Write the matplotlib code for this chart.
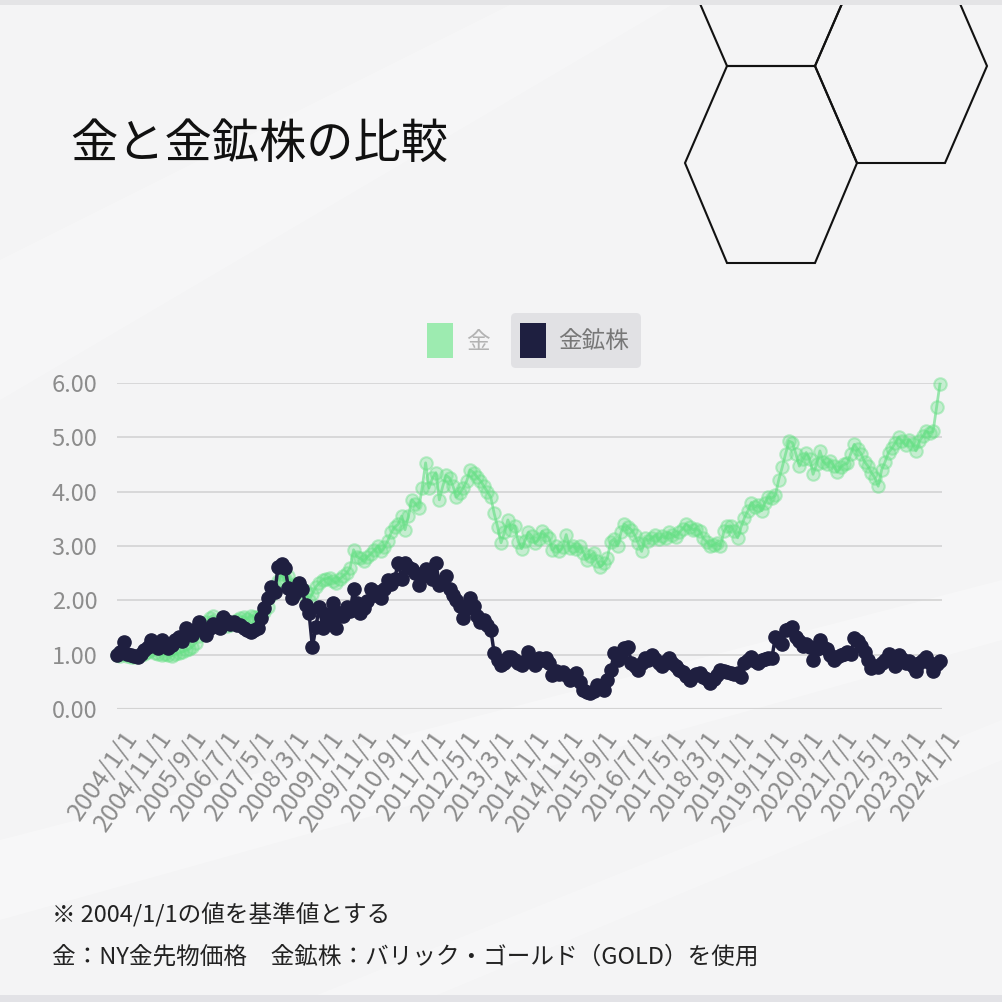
import matplotlib.pyplot as plt
import matplotlib.transforms as mtransforms
from matplotlib.patches import Polygon, FancyBboxPatch, Rectangle

plt.rcParams['font.family'] = ['Noto Sans CJK JP', 'DejaVu Sans']

# 2004/1 を 1.00 とした月次の相対値
gold = [
    1.00, 0.98, 1.02, 0.97, 0.95, 0.96, 0.98, 1.00, 1.01, 1.05, 1.08, 1.03,  # 2004
    1.02, 1.00, 1.01, 0.99, 0.98, 1.02, 1.03, 1.05, 1.08, 1.10, 1.15, 1.22,  # 2005
    1.35, 1.42, 1.60, 1.68, 1.72, 1.58, 1.55, 1.60, 1.52, 1.55, 1.60, 1.63,  # 2006
    1.68, 1.70, 1.66, 1.72, 1.70, 1.69, 1.71, 1.78, 1.88, 2.10, 2.20, 2.35,  # 2007
    2.48, 2.40, 2.45, 2.25, 2.30, 2.14, 2.20, 2.17, 2.00, 2.12, 2.25, 2.32,  # 2008
    2.38, 2.40, 2.42, 2.35, 2.32, 2.40, 2.45, 2.50, 2.60, 2.93, 2.80, 2.77,  # 2009
    2.72, 2.80, 2.85, 2.92, 3.00, 2.90, 2.98, 3.10, 3.25, 3.35, 3.40, 3.55,  # 2010
    3.30, 3.55, 3.85, 3.78, 3.70, 4.07, 4.53, 4.07, 4.25, 4.35, 3.85, 4.10,  # 2011
    4.30, 4.25, 4.10, 3.90, 3.98, 4.07, 4.20, 4.40, 4.35, 4.27, 4.20, 4.10,  # 2012
    4.00, 3.90, 3.60, 3.35, 3.06, 3.25, 3.48, 3.30, 3.37, 3.08, 2.95, 3.10,  # 2013
    3.25, 3.18, 3.05, 3.12, 3.27, 3.20, 3.15, 2.93, 3.00, 2.90, 2.98, 3.21,  # 2014
    2.96, 3.00, 2.95, 3.00, 2.88, 2.75, 2.82, 2.87, 2.72, 2.62, 2.68, 2.78,  # 2015
    3.08, 3.13, 3.00, 3.25, 3.40, 3.35, 3.30, 3.20, 3.05, 2.90, 3.14, 3.10,  # 2016
    3.15, 3.20, 3.12, 3.18, 3.14, 3.25, 3.20, 3.17, 3.25, 3.32, 3.40, 3.35,  # 2017
    3.30, 3.32, 3.27, 3.14, 3.08, 3.00, 3.02, 3.05, 3.00, 3.27, 3.36, 3.37,  # 2018
    3.27, 3.15, 3.35, 3.52, 3.65, 3.80, 3.72, 3.75, 3.65, 3.80, 3.91, 3.88,  # 2019
    3.93, 4.22, 4.45, 4.70, 4.93, 4.90, 4.69, 4.47, 4.60, 4.72, 4.60, 4.32,  # 2020
    4.50, 4.75, 4.55, 4.50, 4.57, 4.48, 4.36, 4.45, 4.50, 4.52, 4.70, 4.87,  # 2021
    4.78, 4.70, 4.55, 4.47, 4.35, 4.26, 4.10, 4.40, 4.55, 4.72, 4.80, 4.90,  # 2022
    5.00, 4.93, 4.85, 4.96, 4.88, 4.75, 4.93, 5.02, 5.11, 5.08, 5.11, 5.55,  # 2023
    5.98,                                                                    # 2024
]

miners = [
    1.00, 1.05, 1.24, 1.01, 0.99, 0.97, 0.95, 1.02, 1.09, 1.15, 1.27, 1.18,  # 2004
    1.12, 1.27, 1.20, 1.12, 1.18, 1.27, 1.33, 1.25, 1.50, 1.40, 1.36, 1.48,  # 2005
    1.60, 1.45, 1.36, 1.50, 1.57, 1.52, 1.50, 1.70, 1.62, 1.57, 1.60, 1.55,  # 2006
    1.55, 1.50, 1.45, 1.42, 1.46, 1.49, 1.67, 1.85, 2.05, 2.25, 2.16, 2.62,  # 2007
    2.66, 2.60, 2.23, 2.05, 2.14, 2.32, 2.20, 1.92, 1.77, 1.14, 1.51, 1.88,  # 2008
    1.50, 1.75, 1.62, 1.95, 1.50, 1.77, 1.72, 1.88, 1.80, 2.20, 1.95, 1.77,  # 2009
    1.85, 1.98, 2.20, 2.10, 2.15, 2.05, 2.20, 2.38, 2.30, 2.40, 2.69, 2.40,  # 2010
    2.69, 2.62, 2.58, 2.50, 2.29, 2.45, 2.58, 2.50, 2.40, 2.69, 2.29, 2.35,  # 2011
    2.45, 2.20, 2.10, 2.00, 1.90, 1.68, 1.85, 2.05, 1.90, 1.72, 1.60, 1.64,  # 2012
    1.55, 1.46, 1.03, 0.90, 0.81, 0.85, 0.95, 0.96, 0.90, 0.85, 0.81, 0.88,  # 2013
    1.05, 0.90, 0.81, 0.94, 0.90, 0.94, 0.85, 0.63, 0.70, 0.65, 0.68, 0.62,  # 2014
    0.54, 0.60, 0.66, 0.50, 0.35, 0.32, 0.29, 0.33, 0.44, 0.38, 0.35, 0.54,  # 2015
    0.72, 1.03, 0.90, 0.98, 1.12, 1.15, 0.85, 0.80, 0.72, 0.85, 0.94, 0.90,  # 2016
    0.99, 0.92, 0.85, 0.79, 0.88, 0.94, 0.85, 0.80, 0.72, 0.68, 0.60, 0.54,  # 2017
    0.60, 0.65, 0.66, 0.58, 0.55, 0.48, 0.55, 0.63, 0.72, 0.70, 0.68, 0.66,  # 2018
    0.64, 0.66, 0.59, 0.85, 0.90, 0.96, 0.88, 0.85, 0.90, 0.92, 0.93, 0.94,  # 2019
    1.33, 1.25, 1.20, 1.46, 1.48, 1.51, 1.33, 1.25, 1.16, 1.20, 1.14, 0.90,  # 2020
    1.10, 1.27, 1.15, 1.10, 1.00, 0.90, 0.95, 1.00, 1.01, 1.05, 1.01, 1.31,  # 2021
    1.25, 1.16, 1.05, 0.90, 0.76, 0.80, 0.78, 0.85, 0.90, 1.01, 0.88, 0.79,  # 2022
    0.99, 0.92, 0.85, 0.88, 0.80, 0.70, 0.85, 0.90, 0.96, 0.85, 0.70, 0.82,  # 2023
    0.88,                                                                    # 2024
]

labels = [f"{2004 + k // 12}/{k % 12 + 1}/1" for k in range(len(gold))]
tick_step = 10
y_ticks = [0, 1, 2, 3, 4, 5, 6]

title = "金と金鉱株の比較"
legend_names = ["金", "金鉱株"]
notes = ["※ 2004/1/1の値を基準値とする",
         "金：NY金先物価格　金鉱株：バリック・ゴールド（GOLD）を使用"]

W = H = 1002
fig = plt.figure(figsize=(W / 100, H / 100), dpi=100)
fig.patch.set_facecolor('#f4f4f5')

# 背景・装飾用（ピクセル座標）
bg = fig.add_axes([0, 0, 1, 1], zorder=0)
bg.set_xlim(0, W)
bg.set_ylim(H, 0)
bg.axis('off')

# うっすらとした背景の流れ
bg.add_patch(Polygon([(0, 840), (1002, 580), (1002, 640), (0, 920)],
                     closed=True, fc='white', ec='none', alpha=0.3))
bg.add_patch(Polygon([(300, 1002), (1002, 720), (1002, 760), (420, 1002)],
                     closed=True, fc='white', ec='none', alpha=0.25))
bg.add_patch(Polygon([(0, 260), (520, 0), (680, 0), (0, 400)],
                     closed=True, fc='white', ec='none', alpha=0.25))

# 六角形
hexes = [
    [(685, 163), (727, 66), (815, 66), (857, 163), (815, 263), (727, 263)],
    [(815, 66), (857, 163), (945, 163), (987, 66), (945, -31), (857, -31)],
    [(727, 66), (815, 66), (857, -31), (815, -128), (727, -128), (685, -31)],
]
for hx in hexes:
    bg.add_patch(Polygon(hx, closed=True, fc='none', ec='#111111', lw=1.5))

# 枠
bg.add_patch(Rectangle((0, 0), W, 5, fc='#e4e4e6', ec='none', zorder=5))
bg.add_patch(Rectangle((0, 995), W, 7, fc='#e2e2e6', ec='none', zorder=5))

# タイトル
bg.text(70, 145, title, fontsize=34, color='#111111', va='center', ha='left')

# 凡例
bg.add_patch(Rectangle((427, 323), 26, 35, fc='#9debb0', ec='none'))
bg.text(466, 342, legend_names[0], fontsize=17, color='#b3b3b3', va='center')
bg.add_patch(FancyBboxPatch((511, 313), 130, 55,
                            boxstyle='round,pad=0,rounding_size=5',
                            fc='#e1e1e4', ec='none'))
bg.add_patch(Rectangle((520, 323), 26, 35, fc='#1e1f40', ec='none'))
bg.text(558, 342, legend_names[1], fontsize=17, color='#777777', va='center')

# 注記
bg.text(52, 915, notes[0], fontsize=17, color='#222222', va='center')
bg.text(52, 957, notes[1], fontsize=17, color='#222222', va='center')

# メインのグラフ
ax = fig.add_axes([117 / W, 1 - 709 / H, (942 - 117) / W, (709 - 383) / H], zorder=2)
ax.set_facecolor('none')
x = list(range(len(gold)))

ax.plot(x, gold, color=(0.40, 0.87, 0.52, 0.65), lw=2,
        marker='o', markersize=9,
        markerfacecolor=(0.40, 0.88, 0.52, 0.32),
        markeredgecolor=(0.40, 0.88, 0.52, 0.42), markeredgewidth=1.5,
        clip_on=False, zorder=3)
ax.plot(x, miners, color='#1f1f40', lw=2.5,
        marker='o', markersize=9.5, markerfacecolor='#1f1f40',
        markeredgecolor='#1f1f40', clip_on=False, zorder=4)

ax.set_xlim(0, 240.6)
ax.set_ylim(0, 6)
ax.set_yticks(y_ticks)
ax.set_yticklabels([f"{v:.2f}" for v in y_ticks])
ax.set_xticks(x[::tick_step])
ax.set_xticklabels(labels[::tick_step], rotation=55, ha='right',
                   rotation_mode='anchor')

ax.grid(axis='y', color='#d6d6d6', lw=1.3)
ax.grid(axis='x', visible=False)
for s in ax.spines.values():
    s.set_visible(False)
ax.axhline(0, color='#bdbdbd', lw=1.5, zorder=1)

ax.tick_params(axis='y', length=0, pad=14, labelsize=17, labelcolor='#8c8c8c')
ax.tick_params(axis='x', length=0, pad=12, labelsize=18, labelcolor='#8c8c8c')

offset = mtransforms.ScaledTranslation(5 / 100, 0, fig.dpi_scale_trans)
for lbl in ax.get_xticklabels():
    lbl.set_transform(lbl.get_transform() + offset)

fig.savefig('out.png', dpi=100, facecolor=fig.get_facecolor())
